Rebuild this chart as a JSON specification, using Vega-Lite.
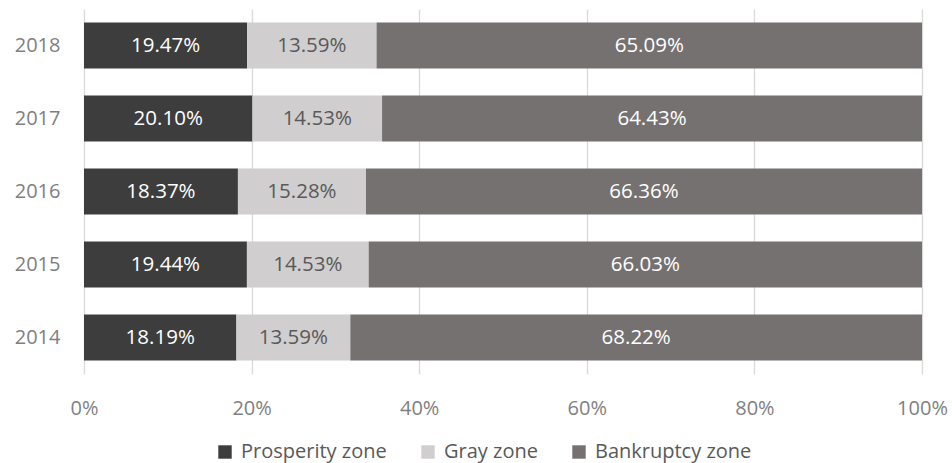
{
  "$schema": "https://vega.github.io/schema/vega-lite/v6.json",
  "width": 838,
  "height": 365,
  "autosize": {"type": "none"},
  "padding": {"left": 84, "top": 9, "right": 30, "bottom": 89},
  "background": "white",
  "config": {
    "font": "Open Sans",
    "view": {"stroke": null},
    "axis": {"labelColor": "#7f7f7f", "labelFont": "Open Sans", "labelFontSize": 20}
  },
  "data": {
    "values": [
      {"year": "2018", "zone": "Prosperity zone", "value": 19.47, "label": "19.47%"},
      {"year": "2018", "zone": "Gray zone", "value": 15.44, "label": "13.59%"},
      {"year": "2018", "zone": "Bankruptcy zone", "value": 65.09, "label": "65.09%"},
      {"year": "2017", "zone": "Prosperity zone", "value": 20.10, "label": "20.10%"},
      {"year": "2017", "zone": "Gray zone", "value": 15.47, "label": "14.53%"},
      {"year": "2017", "zone": "Bankruptcy zone", "value": 64.43, "label": "64.43%"},
      {"year": "2016", "zone": "Prosperity zone", "value": 18.37, "label": "18.37%"},
      {"year": "2016", "zone": "Gray zone", "value": 15.28, "label": "15.28%"},
      {"year": "2016", "zone": "Bankruptcy zone", "value": 66.36, "label": "66.36%"},
      {"year": "2015", "zone": "Prosperity zone", "value": 19.44, "label": "19.44%"},
      {"year": "2015", "zone": "Gray zone", "value": 14.53, "label": "14.53%"},
      {"year": "2015", "zone": "Bankruptcy zone", "value": 66.03, "label": "66.03%"},
      {"year": "2014", "zone": "Prosperity zone", "value": 18.19, "label": "18.19%"},
      {"year": "2014", "zone": "Gray zone", "value": 13.59, "label": "13.59%"},
      {"year": "2014", "zone": "Bankruptcy zone", "value": 68.22, "label": "68.22%"}
    ]
  },
  "encoding": {
    "y": {
      "field": "year",
      "type": "ordinal",
      "sort": "descending",
      "title": null,
      "scale": {"paddingInner": 0.37, "paddingOuter": 0.185},
      "axis": {"ticks": false, "domain": false, "labelPadding": 24, "grid": false}
    },
    "x": {
      "field": "value",
      "type": "quantitative",
      "stack": "normalize",
      "title": null,
      "scale": {"domain": [0, 1], "nice": false},
      "axis": {
        "values": [0, 0.2, 0.4, 0.6, 0.8, 1],
        "format": ".0%",
        "ticks": false,
        "domain": false,
        "grid": true,
        "gridColor": "#d9d9d9",
        "gridWidth": 1.3,
        "labelPadding": 24,
        "labelFlush": false
      }
    },
    "order": {"field": "zone", "sort": "descending"}
  },
  "layer": [
    {
      "mark": {"type": "bar"},
      "encoding": {
        "color": {
          "field": "zone",
          "type": "nominal",
          "scale": {
            "domain": ["Prosperity zone", "Gray zone", "Bankruptcy zone"],
            "range": ["#3d3d3d", "#d0cece", "#767171"]
          },
          "legend": {
            "title": null,
            "orient": "none",
            "direction": "horizontal",
            "legendX": 131,
            "legendY": 433,
            "symbolType": "square",
            "symbolSize": 180,
            "symbolStrokeWidth": 0,
            "labelFont": "Open Sans",
            "labelFontSize": 20,
            "labelColor": "#595959",
            "labelOffset": 6,
            "columnPadding": 31
          }
        }
      }
    },
    {
      "mark": {"type": "text", "font": "Open Sans", "fontSize": 20.5, "baseline": "middle", "align": "center"},
      "encoding": {
        "x": {"field": "value", "type": "quantitative", "stack": "normalize", "bandPosition": 0.5},
        "text": {"field": "label"},
        "color": {
          "condition": {"test": "datum.zone === 'Gray zone'", "value": "#595959"},
          "value": "#ffffff"
        }
      }
    }
  ]
}
